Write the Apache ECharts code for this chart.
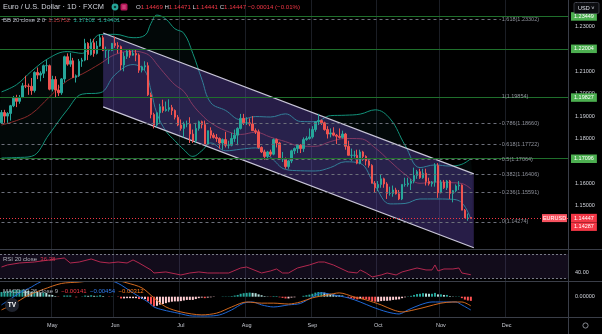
<!DOCTYPE html>
<html><head><meta charset="utf-8">
<script src="https://cdn.jsdelivr.net/npm/echarts@6/dist/echarts.min.js"></script>
<style>html,body{margin:0;padding:0;background:#000;overflow:hidden}#chart{width:602px;height:334px}</style>
</head><body><div id="chart"></div>
<script>
// ---------------- data ----------------
const monthNames = ['Jan','Feb','Mar','Apr','May','Jun','Jul','Aug','Sep','Oct','Nov','Dec'];
const firstDay = [2021, 3, 8];   // first trading day shown (Apr 8 2021)
const slotCount = 190;           // trading-day slots on the time axis (incl. empty future)
const priceTicks = [1.14,1.15,1.16,1.17,1.18,1.19,1.20,1.21,1.22,1.23,1.24];

const opens = [1.1870,1.1916,1.1900,1.1912,1.1946,1.1980,1.1966,1.1983,1.2035,1.2034,
1.2033,1.2014,1.2095,1.2083,1.2091,1.2125,1.2125,1.2020,1.2063,1.2016,
1.2004,1.2066,1.2165,1.2132,1.2147,1.2073,1.2080,1.2145,1.2150,1.2225,
1.2175,1.2227,1.2180,1.2213,1.2250,1.2193,1.2193,1.2193,1.2225,1.2215,
1.2210,1.2128,1.2167,1.2190,1.2172,1.2180,1.2173,1.2105,1.2120,1.2125,
1.1995,1.1907,1.1860,1.1915,1.1942,1.1925,1.1930,1.1938,1.1925,1.1895,
1.1860,1.1845,1.1865,1.1865,1.1820,1.1790,1.1845,1.1875,1.1862,1.1775,
1.1835,1.1815,1.1805,1.1800,1.1780,1.1795,1.1770,1.1770,1.1800,1.1815,
1.1845,1.1890,1.1870,1.1870,1.1865,1.1835,1.1830,1.1760,1.1740,1.1720,
1.1740,1.1730,1.1795,1.1780,1.1710,1.1710,1.1675,1.1700,1.1745,1.1755,
1.1770,1.1755,1.1795,1.1800,1.1807,1.1840,1.1875,1.1880,1.1870,1.1840,
1.1820,1.1825,1.1815,1.1810,1.1805,1.1820,1.1765,1.1725,1.1725,1.1725,
1.1690,1.1740,1.1720,1.1700,1.1680,1.1600,1.1580,1.1595,1.1620,1.1597,
1.1555,1.1555,1.1570,1.1553,1.1530,1.1595,1.1595,1.1600,1.1610,1.1635,
1.1652,1.1625,1.1645,1.1608,1.1598,1.1605,1.1680,1.1558,1.1605,1.1580,
1.1610,1.1555,1.1567,1.1588,1.1592,1.1480,1.1445,1.14469];
const highs = [1.1927,1.1928,1.1918,1.1950,1.1990,1.1995,1.1994,1.2048,1.2080,1.2045,
1.2070,1.2100,1.2117,1.2100,1.2130,1.2150,1.2130,1.2080,1.2078,1.2040,
1.2070,1.2170,1.2180,1.2182,1.2160,1.2086,1.2155,1.2160,1.2245,1.2230,
1.2245,1.2245,1.2235,1.2265,1.2260,1.2210,1.2200,1.2215,1.2255,1.2230,
1.2215,1.2185,1.2195,1.2200,1.2195,1.2195,1.2180,1.2125,1.2145,1.2140,
1.2005,1.1915,1.1915,1.1955,1.1973,1.1965,1.1975,1.1950,1.1930,1.1905,
1.1885,1.1875,1.1880,1.1895,1.1840,1.1870,1.1880,1.1880,1.1880,1.1835,
1.1850,1.1825,1.1820,1.1805,1.1800,1.1830,1.1790,1.1825,1.1840,1.1850,
1.1910,1.1910,1.1895,1.1890,1.1900,1.1845,1.1840,1.1765,1.1750,1.1745,
1.1750,1.1800,1.1800,1.1785,1.1740,1.1715,1.1705,1.1750,1.1760,1.1770,
1.1775,1.1805,1.1810,1.1845,1.1855,1.1875,1.1910,1.1885,1.1875,1.1855,
1.1845,1.1850,1.1820,1.1845,1.1835,1.1825,1.1790,1.1755,1.1745,1.1750,
1.1750,1.1745,1.1725,1.1710,1.1685,1.1610,1.1610,1.1640,1.1625,1.1605,
1.1585,1.1590,1.1580,1.1570,1.1595,1.1625,1.1625,1.1620,1.1670,1.1660,
1.1665,1.1665,1.1665,1.1625,1.1610,1.1690,1.1690,1.1615,1.1615,1.1615,
1.1615,1.1570,1.1595,1.1610,1.1595,1.1485,1.1465,1.14471];
const lows = [1.1865,1.1870,1.1870,1.1880,1.1940,1.1940,1.1955,1.1980,1.2025,1.1995,
1.1995,1.2005,1.2065,1.2055,1.2070,1.2100,1.2015,1.2010,1.1985,1.1990,
1.1995,1.2050,1.2125,1.2120,1.2070,1.2050,1.2075,1.2120,1.2145,1.2150,
1.2170,1.2165,1.2175,1.2210,1.2190,1.2160,1.2133,1.2190,1.2205,1.2180,
1.2105,1.2100,1.2155,1.2160,1.2170,1.2145,1.2093,1.2095,1.2105,1.1990,
1.1890,1.1845,1.1850,1.1870,1.1915,1.1920,1.1920,1.1905,1.1885,1.1855,
1.1835,1.1805,1.1850,1.1780,1.1780,1.1780,1.1835,1.1845,1.1775,1.1770,
1.1800,1.1800,1.1785,1.1755,1.1750,1.1760,1.1755,1.1765,1.1785,1.1770,
1.1840,1.1860,1.1860,1.1855,1.1835,1.1820,1.1755,1.1735,1.1705,1.1705,
1.1720,1.1725,1.1760,1.1705,1.1695,1.1665,1.1665,1.1690,1.1730,1.1735,
1.1735,1.1740,1.1790,1.1795,1.1800,1.1830,1.1860,1.1860,1.1835,1.1800,
1.1805,1.1810,1.1775,1.1800,1.1800,1.1750,1.1725,1.1700,1.1715,1.1685,
1.1685,1.1700,1.1680,1.1670,1.1600,1.1560,1.1565,1.1580,1.1580,1.1530,
1.1545,1.1540,1.1550,1.1525,1.1525,1.1585,1.1585,1.1570,1.1600,1.1620,
1.1620,1.1620,1.1590,1.1590,1.1585,1.1585,1.1535,1.1555,1.1575,1.1570,
1.1530,1.1515,1.1560,1.1570,1.1480,1.1445,1.1433,1.14441];
const closes = [1.1916,1.1900,1.1912,1.1946,1.1980,1.1966,1.1983,1.2035,1.2034,1.2033,
1.2014,1.2095,1.2083,1.2091,1.2125,1.2125,1.2020,1.2063,1.2016,1.2004,
1.2066,1.2165,1.2132,1.2147,1.2073,1.2080,1.2145,1.2150,1.2225,1.2175,
1.2227,1.2180,1.2213,1.2250,1.2193,1.2193,1.2193,1.2225,1.2215,1.2210,
1.2128,1.2167,1.2190,1.2172,1.2180,1.2173,1.2105,1.2120,1.2125,1.1995,
1.1907,1.1860,1.1915,1.1942,1.1925,1.1930,1.1938,1.1925,1.1895,1.1860,
1.1845,1.1865,1.1865,1.1820,1.1790,1.1845,1.1875,1.1862,1.1775,1.1835,
1.1815,1.1805,1.1800,1.1780,1.1795,1.1770,1.1770,1.1800,1.1815,1.1845,
1.1890,1.1870,1.1870,1.1865,1.1835,1.1830,1.1760,1.1740,1.1720,1.1740,
1.1730,1.1795,1.1780,1.1710,1.1710,1.1675,1.1700,1.1745,1.1755,1.1770,
1.1755,1.1795,1.1800,1.1807,1.1840,1.1875,1.1880,1.1870,1.1840,1.1820,
1.1825,1.1815,1.1810,1.1805,1.1820,1.1765,1.1725,1.1725,1.1725,1.1690,
1.1740,1.1720,1.1700,1.1680,1.1600,1.1580,1.1595,1.1620,1.1597,1.1555,
1.1555,1.1570,1.1553,1.1530,1.1595,1.1595,1.1600,1.1610,1.1635,1.1652,
1.1625,1.1645,1.1608,1.1598,1.1605,1.1680,1.1558,1.1605,1.1580,1.1610,
1.1555,1.1567,1.1588,1.1592,1.1480,1.1445,1.1445,1.14447];

const bbIdx   = [0,5,10,16,22,27,33,38,44,48,50,52,55,58,61,64,67,70,75,80,85,90,95,100,105,110,115,120,125,130,135,140,145,150,154,157];
const bbUpper = [1.2008,1.2040,1.2100,1.2160,1.2188,1.2180,1.2264,1.2265,1.2250,1.2261,1.2314,1.2351,1.2333,1.2290,1.2270,1.2180,1.2065,1.1960,1.1925,1.1884,1.1898,1.1896,1.1910,1.1876,1.1875,1.1902,1.1904,1.1909,1.1928,1.1888,1.1770,1.1670,1.1682,1.1677,1.1685,1.17102];
const bbBasis = [1.1860,1.1880,1.1910,1.1985,1.2058,1.2088,1.2134,1.2175,1.2190,1.2181,1.2164,1.2131,1.2083,1.2040,1.2010,1.1950,1.1905,1.1870,1.1835,1.1818,1.1828,1.1806,1.1786,1.1766,1.1765,1.1786,1.1800,1.1799,1.1758,1.1698,1.1640,1.1600,1.1606,1.1603,1.1599,1.15752];
const bbLower = [1.1713,1.1715,1.1720,1.1820,1.1928,1.1998,1.2004,1.2085,1.2130,1.2101,1.2014,1.1911,1.1833,1.1790,1.1750,1.1720,1.1745,1.1780,1.1745,1.1752,1.1758,1.1716,1.1662,1.1656,1.1655,1.1670,1.1696,1.1689,1.1588,1.1508,1.1510,1.1530,1.1530,1.1529,1.1513,1.14401];

// RSI (20)
const rsiIdx = [0,2,6,11,16,21,23,26,30,33,36,39,42,44,46,50,51,55,60,63,66,69,73,76,80,82,87,90,92,94,96,99,103,106,108,111,116,119,120,122,124,127,129,132,134,139,142,144,145,146,148,151,153,154,157];
const rsiVal = [48.9,52.2,55.4,57,60.3,63.5,55.4,57,61.9,57,55.4,57,55.4,60.3,55.4,44.1,39.2,40.9,36,39.2,40.9,39.2,39.2,39.2,47.3,48.9,39.2,42.5,45.7,39.2,39.2,47.3,52.2,57,57,52.2,40.9,39.2,44.1,39.2,32.8,36,39.2,36,40.9,47.3,44.1,44.1,52.2,42.5,45.7,45.7,47.3,39.2,36.38];

// MACD (12, 26, 9)
const macdIdx = [0,3,6,10,12,16,23,30,35,38,40,44,49,51,54,59,64,69,73,77,81,84,87,91,96,100,104,107,111,116,120,124,129,133,136,140,144,149,152,154,157];
const macdVal = [-0.0028,-0.0008,0.0013,0.0033,0.0045,0.0062,0.0065,0.0068,0.0060,0.0050,0.0040,0.0013,-0.0018,-0.0035,-0.0045,-0.0056,-0.0066,-0.0066,-0.0062,-0.0045,-0.0022,-0.0018,-0.0028,-0.0035,-0.0028,-0.0023,-0.0001,0.0013,0.0006,-0.0004,-0.0018,-0.0035,-0.0052,-0.0059,-0.0045,-0.0028,-0.0018,-0.0018,-0.0018,-0.0028,-0.00454];
const sigIdx = [0,4,9,14,20,26,31,38,42,47,51,55,60,67,72,77,82,87,91,96,100,104,109,113,118,122,127,131,134,138,142,147,151,154,157];
const sigVal = [-0.0045,-0.0025,0.0005,0.0025,0.0045,0.0050,0.0055,0.0056,0.0047,0.0030,-0.0004,-0.0035,-0.0052,-0.0062,-0.0056,-0.0035,-0.0018,-0.0022,-0.0022,-0.0025,-0.0018,-0.0004,0.0006,0.0013,-0.0001,-0.0011,-0.0028,-0.0045,-0.0052,-0.0045,-0.0035,-0.0022,-0.0018,-0.0018,-0.00312];
const histVal = [0.0016,0.0018,0.0019,0.0021,0.0023,0.0023,0.0023,0.0024,0.0022,0.0020,
0.0017,0.0018,0.0016,0.0014,0.0014,0.0013,0.0007,0.0006,0.0002,-0.0001,
0.0000,0.0004,0.0004,0.0004,0.0000,-0.0002,0.0000,0.0001,0.0004,0.0003,
0.0005,0.0003,0.0003,0.0005,0.0002,0.0000,-0.0001,0.0001,0.0000,-0.0001,
-0.0006,-0.0006,-0.0005,-0.0005,-0.0005,-0.0005,-0.0008,-0.0008,-0.0008,-0.0016,
-0.0026,-0.0033,-0.0031,-0.0027,-0.0025,-0.0022,-0.0019,-0.0017,-0.0016,-0.0016,
-0.0015,-0.0013,-0.0011,-0.0011,-0.0011,-0.0008,-0.0005,-0.0003,-0.0005,-0.0003,
-0.0002,-0.0001,0.0000,0.0000,0.0001,0.0001,0.0001,0.0002,0.0004,0.0006,
0.0010,0.0012,0.0013,0.0014,0.0013,0.0012,0.0008,0.0005,0.0002,0.0001,
-0.0001,0.0002,0.0002,-0.0002,-0.0004,-0.0006,-0.0006,-0.0003,-0.0002,0.0000,
0.0000,0.0003,0.0005,0.0007,0.0010,0.0014,0.0016,0.0016,0.0014,0.0011,
0.0010,0.0008,0.0006,0.0005,0.0004,0.0000,-0.0004,-0.0006,-0.0007,-0.0009,
-0.0007,-0.0008,-0.0009,-0.0011,-0.0015,-0.0017,-0.0017,-0.0015,-0.0014,-0.0014,
-0.0013,-0.0011,-0.0010,-0.0009,-0.0005,-0.0002,0.0001,0.0003,0.0006,0.0009,
0.0010,0.0012,0.0011,0.0010,0.0010,0.0013,0.0008,0.0008,0.0006,0.0006,
0.0002,0.0001,0.0001,0.0001,-0.0005,-0.0010,-0.0013,-0.00141];

// drawings
const fibNames  = ['0','0.236','0.382','0.5','0.618','0.786','1','1.618'];
const fibPrices = [1.14274,1.15591,1.16406,1.17064,1.17722,1.18660,1.19854,1.23302];
const fibEndIdx = 167;
const greenLevels = [1.23449,1.22004,1.19827,1.17096];
const lastPrice = 1.14447;
const lowTag = 1.14287;
const channelIdx   = [34, 158];
const channelUpper = [1.2271, 1.1642];
const channelLower = [1.1941, 1.1312];

// ---------------- build ----------------
const dates = [];
(function(){
  const d = new Date(Date.UTC(firstDay[0], firstDay[1], firstDay[2]));
  while (dates.length < slotCount) {
    const wd = d.getUTCDay();
    if (wd !== 0 && wd !== 6) dates.push(d.toISOString().slice(0,10));
    d.setUTCDate(d.getUTCDate()+1);
  }
})();
const isMonthStart = (i) => i > 0 && dates[i].slice(5,7) !== dates[i-1].slice(5,7);

const FONT = 'Liberation Sans, Arial, sans-serif';
const UP = '#26a69a', DOWN = '#ef5350';
const GRID_C = '#1b1e25';
const CLEAR = 'rgba(0,0,0,0)';

const candleData = opens.map((o,i)=>[o, closes[i], lows[i], highs[i]]);
const pair = (idx, val) => idx.map((x,k)=>[x, val[k]]);

const histData = histVal.map((v,i)=>{
  const prev = i>0 ? histVal[i-1] : v;
  let c;
  if (v >= 0) c = (v >= prev) ? '#26a69a' : '#b2dfdb';
  else c = (v < prev) ? '#ff5252' : '#ffcdd2';
  return {value: v, itemStyle: {color: c}};
});

const xAxisBase = (gi, showLabel) => ({
  type:'category', gridIndex: gi, data: dates, boundaryGap: true,
  axisLine:{show:false}, axisTick:{show:false},
  axisLabel: showLabel ? {
    show:true, interval:(i)=>isMonthStart(i), margin:5,
    formatter:(v)=>monthNames[parseInt(v.slice(5,7),10)-1],
    color:'#c8cbd3', fontSize:5.5, fontFamily: FONT
  } : {show:false},
  splitLine:{show:true, interval:(i)=>isMonthStart(i), lineStyle:{color:GRID_C, width:1}}
});

const fibLines = fibPrices.map((p,k)=>[
  {name: fibNames[k] + '(' + p.toFixed(5) + ')', coord:[dates[0], p]},
  {coord:[dates[fibEndIdx], p]}
]);

const tickLines = priceTicks.map(p=>({
  yAxis: p, lineStyle:{color:CLEAR, width:0},
  label:{show:true, position:'end', distance:7, formatter:p.toFixed(5), color:'#d1d4dc', fontSize:5.5, fontFamily:FONT}
}));

const priceBox = (p, bg, extra) => Object.assign({
  yAxis: p,
  lineStyle:{color:'#1f6f2c', type:'solid', width:1},
  label:{show:true, position:'end', distance:3, formatter: p.toFixed(5),
    color:'#ffffff', backgroundColor: bg, padding:[1.5,3,1,3], fontSize:5.5, fontFamily: FONT}
}, extra || {});

// price pane: y = 205.7 at 1.15, 2240 px per 1.0
const PRICE_TOP = 1.15 + 205.7/2240;
const PRICE_BOTTOM = 1.15 - (249.5-205.7)/2240;

const option = {
  backgroundColor:'#000000',
  animation:false,
  textStyle:{fontFamily: FONT},
  grid:[
    {left:0, right:34, top:0, height:249.5},
    {left:0, right:34, top:247.8, height:37.05},
    {left:0, right:34, top:282, height:35}
  ],
  xAxis:[ xAxisBase(0,false), xAxisBase(1,false), xAxisBase(2,true) ],
  yAxis:[
    {type:'value', gridIndex:0, position:'right', min:PRICE_BOTTOM, max:PRICE_TOP, show:false},
    {type:'value', gridIndex:1, position:'right', min:20, max:80, show:false},
    {type:'value', gridIndex:2, position:'right', min:-0.006928, max:0.005017, show:false}
  ],
  series:[
    // Bollinger fill
    {type:'custom', xAxisIndex:0, yAxisIndex:0, z:1, silent:true, data:[[bbIdx[0], bbUpper[0]]],
      renderItem:(params, api)=>{
        const pts = [];
        for (let k=0;k<bbIdx.length;k++) pts.push(api.coord([bbIdx[k], bbUpper[k]]));
        for (let k=bbIdx.length-1;k>=0;k--) pts.push(api.coord([bbIdx[k], bbLower[k]]));
        return {type:'polygon', shape:{points:pts, smooth:0.25}, style:{fill:'rgba(38,166,154,0.05)'}};
      }},
    {type:'line', name:'upper', xAxisIndex:0, yAxisIndex:0, z:2, data:pair(bbIdx,bbUpper), smooth:0.4, symbol:'none',
      lineStyle:{color:'#12927a', width:1},
      markLine:{silent:true, symbol:['none','none'], animation:false, precision:6, data: tickLines}},
    {type:'line', name:'lower', xAxisIndex:0, yAxisIndex:0, z:2, data:pair(bbIdx,bbLower), smooth:0.4, symbol:'none',
      lineStyle:{color:'#12927a', width:1}},
    {type:'line', name:'basis', xAxisIndex:0, yAxisIndex:0, z:2, data:pair(bbIdx,bbBasis), smooth:0.4, symbol:'none',
      lineStyle:{color:'#8a2a2a', width:1},
      markLine:{silent:true, symbol:['none','none'], animation:false, precision:6,
        lineStyle:{color:'#6c6f7a', type:[3,3], width:1},
        label:{show:true, position:'end', distance:1, formatter:'{b}', color:'#8f929c', fontSize:5.5, fontFamily:FONT},
        data: fibLines}},
    // parallel channel
    {type:'custom', xAxisIndex:0, yAxisIndex:0, z:3, silent:true, data:[[channelIdx[0], channelUpper[0]]],
      renderItem:(params, api)=>{
        const a = api.coord([channelIdx[0], channelUpper[0]]);
        const b = api.coord([channelIdx[1], channelUpper[1]]);
        const c = api.coord([channelIdx[1], channelLower[1]]);
        const d = api.coord([channelIdx[0], channelLower[0]]);
        return {type:'group', children:[
          {type:'polygon', shape:{points:[a,b,c,d]}, style:{fill:'rgba(118,88,215,0.33)'}},
          {type:'line', shape:{x1:a[0],y1:a[1],x2:b[0],y2:b[1]}, style:{stroke:'#c9c6d8', lineWidth:1.2}},
          {type:'line', shape:{x1:d[0],y1:d[1],x2:c[0],y2:c[1]}, style:{stroke:'#c9c6d8', lineWidth:1.2}}
        ]};
      }},
    // candles
    {type:'candlestick', xAxisIndex:0, yAxisIndex:0, z:4, data:candleData, barWidth:2,
      itemStyle:{color:UP, color0:DOWN, borderColor:UP, borderColor0:DOWN, borderWidth:1},
      markLine:{silent:true, symbol:['none','none'], animation:false, precision:6,
        data:[
          ...greenLevels.map(p=>priceBox(p,'#4caf50')),
          priceBox(lastPrice,'#f23645',{lineStyle:{color:'#f23645', type:[1,2], width:1}}),
          priceBox(lowTag,'#f23645',{lineStyle:{color:CLEAR, width:0}, label:{show:true, position:'end', distance:3, offset:[0,5],
            formatter: lowTag.toFixed(5), color:'#fff', backgroundColor:'#f23645', padding:[1.5,3,1,3], fontSize:5.5, fontFamily:FONT}})
        ]},
      markPoint:{silent:true, animation:false, data:[
        {coord:[dates[slotCount-1], lastPrice], symbol:'rect', symbolSize:[25,8], symbolOffset:[-12,0],
          itemStyle:{color:'#f7525f'},
          label:{show:true, position:'inside', formatter:'EURUSD', color:'#fff', fontSize:5.5, fontFamily:FONT}}
      ]}},
    // RSI
    {type:'line', xAxisIndex:1, yAxisIndex:1, data:pair(rsiIdx, rsiVal), symbol:'none', smooth:false,
      lineStyle:{color:'#b3284f', width:1},
      markArea:{silent:true, itemStyle:{color:'rgba(126,87,194,0.14)'}, data:[[{yAxis:30},{yAxis:70}]]},
      markLine:{silent:true, symbol:['none','none'], animation:false, precision:6,
        lineStyle:{color:'#787b86', type:[2,2], width:1},
        label:{show:false},
        data:[{yAxis:70},{yAxis:30},
          {yAxis:40, lineStyle:{color:CLEAR, width:0}, label:{show:true, position:'end', distance:7, formatter:'40.00', color:'#d1d4dc', fontSize:5.5, fontFamily:FONT}}]}},
    // MACD
    {type:'bar', xAxisIndex:2, yAxisIndex:2, data:histData, barWidth:2,
      markLine:{silent:true, symbol:['none','none'], animation:false, precision:6,
        data:[{yAxis:0, lineStyle:{color:CLEAR, width:0}, label:{show:true, position:'end', distance:7, formatter:'0.00000', color:'#d1d4dc', fontSize:5.5, fontFamily:FONT}}]}},
    {type:'line', xAxisIndex:2, yAxisIndex:2, data:pair(macdIdx, macdVal), symbol:'none', smooth:0.3,
      lineStyle:{color:'#2068d6', width:1}},
    {type:'line', xAxisIndex:2, yAxisIndex:2, data:pair(sigIdx, sigVal), symbol:'none', smooth:0.3,
      lineStyle:{color:'#d2691e', width:1}}
  ],
  graphic:[
    {type:'line', silent:true, z:50, shape:{x1:0,y1:249.5,x2:602,y2:249.5}, style:{stroke:'#3a3e48', lineWidth:1}},
    {type:'line', silent:true, z:50, shape:{x1:0,y1:281.5,x2:602,y2:281.5}, style:{stroke:'#3a3e48', lineWidth:1}},
    {type:'line', silent:true, z:50, shape:{x1:0,y1:317.5,x2:602,y2:317.5}, style:{stroke:'#3a3e48', lineWidth:1}},
    {type:'line', silent:true, z:50, shape:{x1:568.5,y1:0,x2:568.5,y2:334}, style:{stroke:'#3a3e48', lineWidth:1}},
    // header
    {type:'text', silent:true, z:60, x:3, y:7, style:{text:'Euro / U.S. Dollar · 1D · FXCM', fill:'#d1d4dc', fontSize:7.4, fontFamily:FONT, verticalAlign:'middle'}},
    {type:'circle', silent:true, z:60, shape:{cx:115, cy:7, r:3.4}, style:{fill:'#26a69a'}},
    {type:'circle', silent:true, z:61, shape:{cx:115, cy:7, r:1.3}, style:{fill:'#0b3a35'}},
    {type:'rect', silent:true, z:60, shape:{x:120.5, y:3.5, width:7, height:7, r:1.5}, style:{fill:'#b5175a'}},
    {type:'line', silent:true, z:61, shape:{x1:122.3,y1:6,x2:125.7,y2:6}, style:{stroke:'#f48fb1', lineWidth:0.7}},
    {type:'line', silent:true, z:61, shape:{x1:122.3,y1:8,x2:125.7,y2:8}, style:{stroke:'#f48fb1', lineWidth:0.7}},
    {type:'text', silent:true, z:60, x:136, y:7, style:{
      text:'{w|O}{r|1.14469} {w|H}{r|1.14471} {w|L}{r|1.14441} {w|C}{r|1.14447} {r|\u22120.00014 (\u22120.01%)}',
      fontSize:6.1, fontFamily:FONT, verticalAlign:'middle',
      rich:{w:{fill:'#d1d4dc', fontSize:6.1, fontFamily:FONT}, r:{fill:'#f23645', fontSize:6.1, fontFamily:FONT}}}},
    {type:'text', silent:true, z:60, x:3, y:20, style:{
      text:'{g|BB 20 close 2 0}  {m|1.15752}  {t|1.17102}  {t|1.14401}',
      fontSize:6, fontFamily:FONT, verticalAlign:'middle',
      rich:{g:{fill:'#b2b5be', fontSize:6, fontFamily:FONT}, m:{fill:'#b2383a', fontSize:6, fontFamily:FONT}, t:{fill:'#1fa08a', fontSize:6, fontFamily:FONT}}}},
    {type:'text', silent:true, z:60, x:3, y:259.5, style:{
      text:'{g|RSI 20 close}  {r|36.38}', fontSize:6, fontFamily:FONT, verticalAlign:'middle',
      rich:{g:{fill:'#b2b5be', fontSize:6, fontFamily:FONT}, r:{fill:'#d0324f', fontSize:6, fontFamily:FONT}}}},
    {type:'text', silent:true, z:60, x:3, y:291.7, style:{
      text:'{g|MACD 12 26 close 9}  {r|\u22120.00141}  {b|\u22120.00454}  {o|\u22120.00312}', fontSize:6, fontFamily:FONT, verticalAlign:'middle',
      rich:{g:{fill:'#b2b5be', fontSize:6, fontFamily:FONT}, r:{fill:'#f23645', fontSize:6, fontFamily:FONT},
            b:{fill:'#2f7bf0', fontSize:6, fontFamily:FONT}, o:{fill:'#ff7a1a', fontSize:6, fontFamily:FONT}}}},
    // USD box
    {type:'rect', silent:true, z:60, shape:{x:574, y:2.5, width:25, height:11, r:1.5}, style:{fill:'#0c0d10', stroke:'#4a4e58', lineWidth:0.7}},
    {type:'text', silent:true, z:61, x:578, y:8, style:{text:'USD \u02c5', fill:'#e0e3eb', fontSize:5.5, fontFamily:FONT, verticalAlign:'middle'}},
    // TV logo
    {type:'circle', silent:true, z:60, shape:{cx:12, cy:305, r:7}, style:{fill:'#1e222d'}},
    {type:'text', silent:true, z:61, x:12, y:305, style:{text:'TV', fill:'#ffffff', fontSize:6.5, fontWeight:'bold', fontFamily:FONT, align:'center', verticalAlign:'middle'}},
    // settings gear
    {type:'circle', silent:true, z:60, shape:{cx:585.5, cy:325.5, r:2.6}, style:{fill:'none', stroke:'#9598a1', lineWidth:0.9}}
  ]
};

const chart = echarts.init(document.getElementById('chart'), null, {renderer:'canvas'});
chart.setOption(option);
</script>
</body></html>
